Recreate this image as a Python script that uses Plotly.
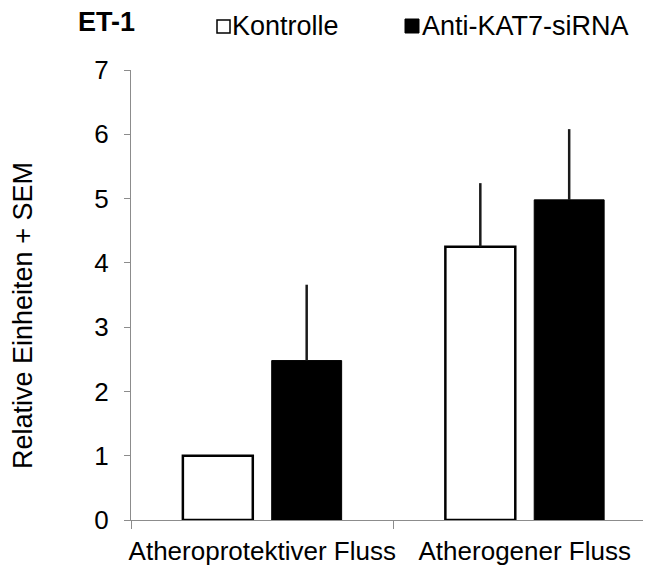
import plotly.graph_objects as go

categories = ["Atheroprotektiver Fluss", "Atherogener Fluss"]
kontrolle = [1.0, 4.25]
kontrolle_sem = [0.0, 0.99]
anti_kat7 = [2.48, 4.98]
anti_kat7_sem = [1.18, 1.10]
y_ticks = [0, 1, 2, 3, 4, 5, 6, 7]

# page body has an 8px default margin, so the figure is drawn offset by 8px
OFF = 8
W, H = 651 - OFF, 567 - OFF
# plot area in window pixels
L, R, T, B = 131, 651, 70, 520


def px(x):
    return (x - L) / (R - L)


def py(y):
    return (B - y) / (B - T)


FONT = "Liberation Sans, Arial, sans-serif"
AXIS_GREY = "#8c8c8c"

fig = go.Figure()
fig.add_trace(go.Bar(
    name="Kontrolle", x=categories, y=kontrolle,
    marker=dict(color="white", line=dict(color="black", width=2.5)),
    error_y=dict(type="data", array=kontrolle_sem, arrayminus=[0, 0],
                 symmetric=False, width=0, thickness=2.5, color="#1a1a1a"),
))
fig.add_trace(go.Bar(
    name="Anti-KAT7-siRNA", x=categories, y=anti_kat7,
    marker=dict(color="black", line=dict(color="black", width=1)),
    error_y=dict(type="data", array=anti_kat7_sem, arrayminus=[0, 0],
                 symmetric=False, width=0, thickness=2.5, color="#1a1a1a"),
))

cat_px = 262.5
fig.update_layout(
    width=W, height=H,
    margin=dict(l=L - OFF, r=W - (R - OFF), t=T - OFF, b=H - (B - OFF), pad=0),
    paper_bgcolor="white", plot_bgcolor="white",
    barmode="group", bargap=0.323, bargroupgap=0.213,
    showlegend=False,
    font=dict(family=FONT, color="black"),
    xaxis=dict(
        type="category", range=[-0.5, -0.5 + (R - L) / cat_px],
        showline=True, linecolor=AXIS_GREY, linewidth=1,
        ticks="outside", tickson="boundaries", ticklen=8, tickcolor=AXIS_GREY,
        tickfont=dict(size=26, family=FONT, color="black"),
        tickangle=0, automargin=False,
        ticklabelstandoff=8,
        showgrid=False, zeroline=False,
    ),
    yaxis=dict(
        range=[0, 7], tickvals=y_ticks,
        showline=True, linecolor=AXIS_GREY, linewidth=1,
        ticks="outside", ticklen=6, tickcolor=AXIS_GREY,
        tickfont=dict(size=26, family=FONT, color="black"),
        ticklabelstandoff=10, automargin=False,
        showgrid=False, zeroline=False,
    ),
)

# y-axis title
fig.add_annotation(
    text="Relative Einheiten + SEM", textangle=-90,
    xref="paper", yref="paper", x=px(23), y=py(316),
    xanchor="center", yanchor="middle", showarrow=False,
    font=dict(size=27, family=FONT, color="black"),
)
# chart title
fig.add_annotation(
    text="<b>ET-1</b>", xref="paper", yref="paper", x=px(76), y=py(22),
    xanchor="left", yanchor="middle", showarrow=False,
    font=dict(size=27, family=FONT, color="black"),
)
# legend
fig.add_shape(type="rect", xref="paper", yref="paper",
              x0=px(217), x1=px(230), y0=py(33), y1=py(20),
              line=dict(color="black", width=1.5), fillcolor="white")
fig.add_annotation(
    text="Kontrolle", xref="paper", yref="paper", x=px(230), y=py(26),
    xanchor="left", yanchor="middle", showarrow=False,
    font=dict(size=27, family=FONT, color="black"),
)
fig.add_shape(type="rect", xref="paper", yref="paper",
              x0=px(405), x1=px(419), y0=py(33), y1=py(19),
              line=dict(color="black", width=1), fillcolor="black")
fig.add_annotation(
    text="Anti-KAT7-siRNA", xref="paper", yref="paper", x=px(420), y=py(26),
    xanchor="left", yanchor="middle", showarrow=False,
    font=dict(size=27, family=FONT, color="black"),
)

fig.write_html("out.html")
